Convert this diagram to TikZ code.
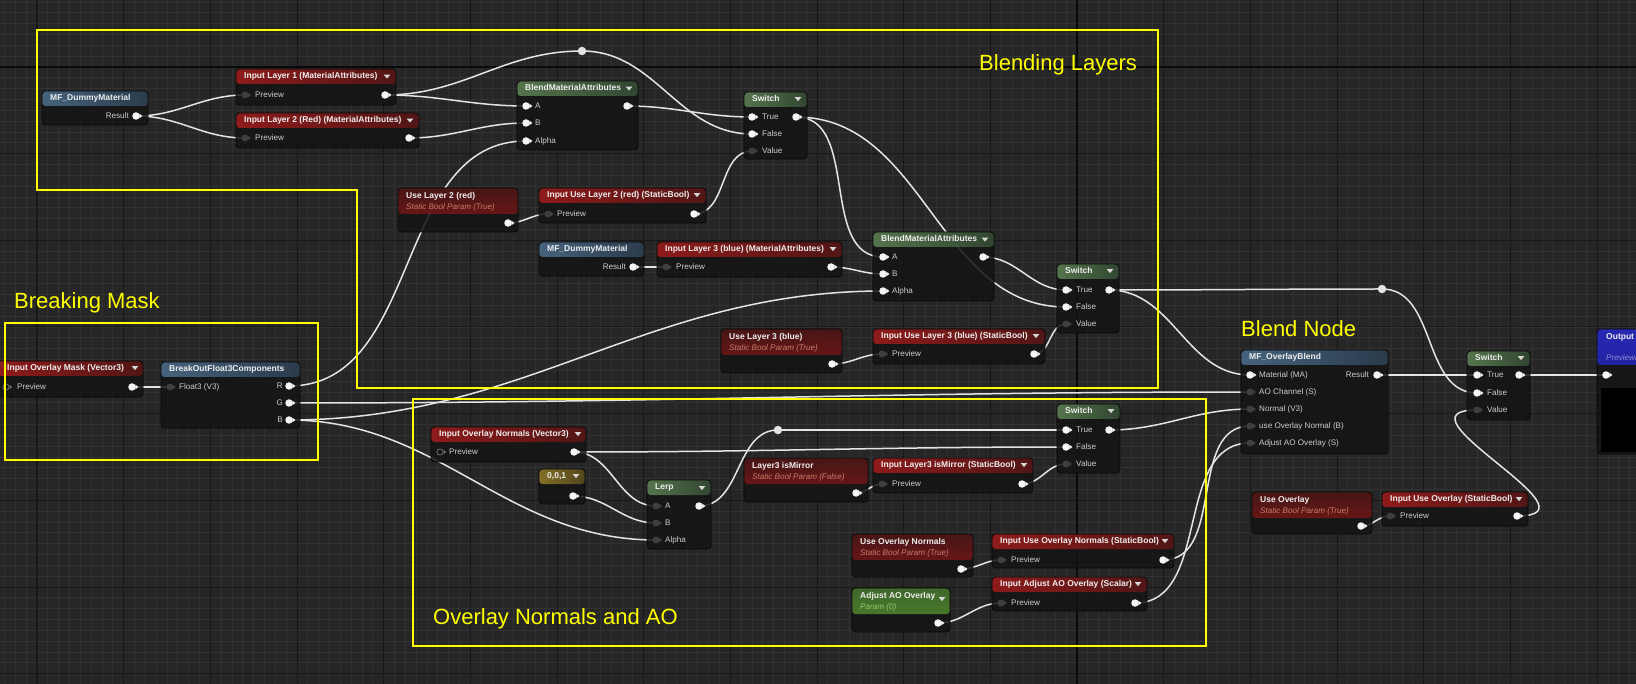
\documentclass[tikz,border=0pt]{standalone}
\usepackage{fontspec}
\setmainfont{Liberation Sans}
\usetikzlibrary{calc}
\definecolor{bg}{RGB}{38,38,38}
\definecolor{gmin}{RGB}{50,50,50}
\definecolor{gmaj}{RGB}{24,24,24}
\definecolor{gori}{RGB}{10,10,10}
\definecolor{nodebody}{RGB}{20,20,20}
\definecolor{nodeedge}{RGB}{8,8,8}
\definecolor{titlec}{RGB}{238,238,238}
\definecolor{labc}{RGB}{205,205,205}
\definecolor{wirec}{RGB}{228,228,228}
\definecolor{pinw}{RGB}{245,245,245}
\definecolor{pind}{RGB}{62,62,62}
\definecolor{pinh}{RGB}{110,110,110}
\definecolor{tric}{RGB}{215,215,215}
\definecolor{yel}{RGB}{255,255,0}
\definecolor{hr1}{RGB}{162,28,28}
\definecolor{hr2}{RGB}{92,22,22}
\definecolor{hb1}{RGB}{78,112,142}
\definecolor{hb2}{RGB}{46,66,86}
\definecolor{hg1}{RGB}{96,132,86}
\definecolor{hg2}{RGB}{54,78,54}
\definecolor{ho1}{RGB}{150,126,40}
\definecolor{ho2}{RGB}{92,78,30}
\definecolor{hp1}{RGB}{80,22,22}
\definecolor{hp2}{RGB}{140,24,24}
\definecolor{hq1}{RGB}{70,118,48}
\definecolor{hq2}{RGB}{86,150,44}
\definecolor{hu1}{RGB}{42,42,205}
\definecolor{hu2}{RGB}{28,28,140}
\definecolor{subred}{RGB}{200,125,105}
\definecolor{subgreen}{RGB}{150,200,120}
\definecolor{subblue}{RGB}{140,140,215}
\pgfdeclarelayer{grid}
\pgfdeclarelayer{wires}
\pgfsetlayers{grid,wires,main}
\tikzset{
  uebody/.style={draw=nodeedge, line width=0.8, rounded corners=3.5, fill=nodebody, fill opacity=0.86, inner sep=0, outer sep=0},
  ttl/.style={text=titlec, font=\fontsize{8.5}{9}\selectfont\bfseries, inner sep=0, text height=6.2pt, text depth=1.7pt},
  subt/.style={font=\fontsize{8.1}{9}\selectfont\itshape, inner sep=0, text height=6pt, text depth=1.6pt},
  plab/.style={text=labc, font=\fontsize{8.1}{9}\selectfont, inner sep=0, text height=6pt, text depth=1.6pt},
  pinn/.style={circle, inner sep=0, minimum size=7.5},
  knot/.style={circle, fill=wirec, inner sep=0, minimum size=8.5},
  wire/.style={draw=wirec, line width=1.5},
  ybox/.style={draw=yel, line width=1.1},
  bigl/.style={text=yel, font=\fontsize{22}{26}\selectfont, inner sep=0},
  gminor/.style={draw=gmin, line width=0.7},
  gmajor/.style={draw=gmaj, line width=1},
  gorigin/.style={draw=gori, line width=1.6},
  hred/.style={left color=hr1, right color=hr2},
  hblue/.style={left color=hb1, right color=hb2},
  hgreen/.style={left color=hg1, right color=hg2},
  holive/.style={left color=ho1, right color=ho2},
  hpred/.style={top color=hp1, bottom color=hp2},
  hpgreen/.style={top color=hq1, bottom color=hq2},
  hout/.style={top color=hu1, bottom color=hu2},
}
% standard node: name, x1, y1, x2, y2, header style, title
\newcommand{\uen}[7]{%
  \node[uebody, minimum width=#4-#2, minimum height=#5-#3, anchor=north west,
    path picture={\shade[#6] (path picture bounding box.north west) rectangle ([yshift=-15pt]path picture bounding box.north east);}] (#1) at (#2,-#3) {};
  \node[ttl, anchor=west] (#1-t) at (#2+8,-#3-7.5) {#7};}
% parameter node: name, x1, y1, x2, y2, header style, title, subtitle
\newcommand{\uep}[8]{%
  \node[uebody, minimum width=#4-#2, minimum height=#5-#3, anchor=north west,
    path picture={\shade[#6] (path picture bounding box.north west) rectangle ([yshift=-26pt]path picture bounding box.north east);}] (#1) at (#2,-#3) {};
  \node[ttl, anchor=west] (#1-t) at (#2+8,-#3-8) {#7};
  \node[subt, anchor=west] (#1-s) at (#2+8,-#3-19.5) {#8};}
\newcommand{\uetri}[2]{\fill[tric] (#1-3.3,-#2+1.9) -- (#1+3.3,-#2+1.9) -- (#1,-#2-2.1) -- cycle;}
\newcommand{\pinW}[3]{\node[pinn, fill=pinw] (#1) at (#2,-#3) {};
  \fill[pinw] (#2+3.4,-#3+2.3) -- (#2+6.4,-#3) -- (#2+3.4,-#3-2.3) -- cycle;}
\newcommand{\pinD}[3]{\node[pinn, fill=pind, minimum size=7] (#1) at (#2,-#3) {};
  \fill[pind] (#2+3.2,-#3+2.2) -- (#2+6.0,-#3) -- (#2+3.2,-#3-2.2) -- cycle;}
\newcommand{\pinH}[3]{\node[pinn, draw=pinh, line width=0.8, minimum size=6.2] (#1) at (#2,-#3) {};
  \fill[pinh] (#2+3.6,-#3+2.1) -- (#2+6.2,-#3) -- (#2+3.6,-#3-2.1) -- cycle;}
\newcommand{\labL}[4]{\node[plab, anchor=west] (#1) at (#2,-#3) {#4};}
\newcommand{\labR}[4]{\node[plab, anchor=east] (#1) at (#2,-#3) {#4};}

\begin{document}
\begin{tikzpicture}[x=1pt,y=1pt]
\useasboundingbox (0,0) rectangle (1636,-684);
\clip (0,0) rectangle (1636,-684);

\begin{pgfonlayer}{grid}
\fill[bg] (0,0) rectangle (1636,-684);
\foreach \k in {-100,...,52} \draw[gminor] ({1077+\k*10.8333},0) -- ({1077+\k*10.8333},-684);
\foreach \k in {-7,...,57} \draw[gminor] (0,{-67-\k*10.8333}) -- (1636,{-67-\k*10.8333});
\foreach \k in {-13,...,7} \draw[gmajor] ({1077+\k*86.6667},0) -- ({1077+\k*86.6667},-684);
\foreach \k in {-1,...,7} \draw[gmajor] (0,{-67-\k*86.6667}) -- (1636,{-67-\k*86.6667});
\draw[gorigin] (1077,0) -- (1077,-684);
\draw[gorigin] (0,-67) -- (1636,-67);
\end{pgfonlayer}

% ---------- Blending Layers ----------
\uen{dm1}{42}{91}{148}{125}{hblue}{MF\_DummyMaterial}
\labR{dm1-rl}{129}{116}{Result}
\pinW{dm1-r}{136}{116}

\uen{il1}{236}{69}{396}{105}{hred}{Input Layer 1 (MaterialAttributes)}
\uetri{387}{76.5}
\pinD{il1-i}{245}{95}
\labL{il1-il}{255}{95}{Preview}
\pinW{il1-o}{385}{95}

\uen{il2}{236}{113}{419}{148}{hred}{Input Layer 2 (Red) (MaterialAttributes)}
\uetri{410}{120.5}
\pinD{il2-i}{245}{138}
\labL{il2-il}{255}{138}{Preview}
\pinW{il2-o}{409}{138}

\uen{bma1}{517}{81}{638}{150}{hgreen}{BlendMaterialAttributes}
\uetri{629}{88.5}
\pinW{bma1-a}{526}{106} \labL{bma1-al}{535}{106}{A}
\pinW{bma1-b}{526}{123} \labL{bma1-bl}{535}{123}{B}
\pinW{bma1-c}{526}{141} \labL{bma1-cl}{535}{141}{Alpha}
\pinW{bma1-o}{627}{106}

\uen{sw1}{744}{92}{807}{159}{hgreen}{Switch}
\uetri{798}{99}
\pinW{sw1-t}{752}{117} \labL{sw1-tl}{762}{117}{True}
\pinW{sw1-f}{752}{134} \labL{sw1-fl}{762}{134}{False}
\pinD{sw1-v}{752}{151} \labL{sw1-vl}{762}{151}{Value}
\pinW{sw1-o}{796}{117}

\uep{ul2}{398}{188}{518}{232}{hpred}{Use Layer 2 (red)}{\color{subred}Static Bool Param (True)}
\pinW{ul2-o}{508}{223}

\uen{iul2}{539}{188}{706}{223}{hred}{Input Use Layer 2 (red) (StaticBool)}
\uetri{697}{195}
\pinD{iul2-i}{548}{214} \labL{iul2-il}{557}{214}{Preview}
\pinW{iul2-o}{694}{214}

\uen{dm2}{539}{242}{644}{276}{hblue}{MF\_DummyMaterial}
\labR{dm2-rl}{626}{267}{Result}
\pinW{dm2-r}{633}{267}

\uen{il3}{657}{242}{842}{277}{hred}{Input Layer 3 (blue) (MaterialAttributes)}
\uetri{833}{249}
\pinD{il3-i}{666}{267} \labL{il3-il}{676}{267}{Preview}
\pinW{il3-o}{831}{267}

\uen{bma2}{873}{232}{994}{301}{hgreen}{BlendMaterialAttributes}
\uetri{985}{239.5}
\pinW{bma2-a}{883}{257} \labL{bma2-al}{892}{257}{A}
\pinW{bma2-b}{883}{274} \labL{bma2-bl}{892}{274}{B}
\pinW{bma2-c}{883}{291} \labL{bma2-cl}{892}{291}{Alpha}
\pinW{bma2-o}{983}{257}

\uen{sw2}{1057}{264}{1119}{333}{hgreen}{Switch}
\uetri{1110}{271}
\pinW{sw2-t}{1066}{290} \labL{sw2-tl}{1076}{290}{True}
\pinW{sw2-f}{1066}{307} \labL{sw2-fl}{1076}{307}{False}
\pinD{sw2-v}{1066}{324} \labL{sw2-vl}{1076}{324}{Value}
\pinW{sw2-o}{1109}{290}

\uep{ul3}{721}{329}{842}{373}{hpred}{Use Layer 3 (blue)}{\color{subred}Static Bool Param (True)}
\pinW{ul3-o}{832}{364}

\uen{iul3}{873}{329}{1045}{364}{hred}{Input Use Layer 3 (blue) (StaticBool)}
\uetri{1036}{336}
\pinD{iul3-i}{882}{354} \labL{iul3-il}{892}{354}{Preview}
\pinW{iul3-o}{1034}{354}

% ---------- Breaking Mask ----------
\node[uebody, minimum width=147, minimum height=36, anchor=north west,
  path picture={\shade[hred] (path picture bounding box.north west) rectangle ([yshift=-15pt]path picture bounding box.north east);}] (iom) at (-4,-361) {};
\node[ttl, anchor=west] (iom-t) at (7,-368.5) {Input Overlay Mask (Vector3)};
\uetri{135}{368}
\pinH{iom-i}{6}{387} \labL{iom-il}{17}{387}{Preview}
\pinW{iom-o}{132}{387}

\uen{bo}{161}{362}{300}{428}{hblue}{BreakOutFloat3Components}
\pinD{bo-i}{170}{387} \labL{bo-il}{179}{387}{Float3 (V3)}
\labR{bo-rl}{283}{386}{R} \pinW{bo-r}{289}{386}
\labR{bo-gl}{283}{403}{G} \pinW{bo-g}{289}{403}
\labR{bo-bl}{283}{420}{B} \pinW{bo-b}{289}{420}

% ---------- Overlay Normals and AO ----------
\uen{ion}{431}{427}{586}{462}{hred}{Input Overlay Normals (Vector3)}
\uetri{578}{434}
\pinH{ion-i}{440}{452} \labL{ion-il}{449}{452}{Preview}
\pinW{ion-o}{574}{452}

\uen{c001}{539}{469}{585}{504}{holive}{0,0,1}
\uetri{576}{476}
\pinW{c001-o}{573}{496}

\uen{lerp}{647}{480}{711}{549}{hgreen}{Lerp}
\uetri{702}{488}
\pinD{lerp-a}{656}{506} \labL{lerp-al}{665}{506}{A}
\pinD{lerp-b}{656}{523} \labL{lerp-bl}{665}{523}{B}
\pinD{lerp-c}{656}{540} \labL{lerp-cl}{665}{540}{Alpha}
\pinW{lerp-o}{699}{506}

\uep{l3m}{744}{458}{868}{502}{hpred}{Layer3 isMirror}{\color{subred}Static Bool Param (False)}
\pinW{l3m-o}{856}{493}

\uen{il3m}{873}{458}{1033}{493}{hred}{Input Layer3 isMirror (StaticBool)}
\uetri{1024}{465}
\pinD{il3m-i}{882}{484} \labL{il3m-il}{892}{484}{Preview}
\pinW{il3m-o}{1022}{484}

\uen{sw4}{1057}{404}{1120}{473}{hgreen}{Switch}
\uetri{1111}{411}
\pinW{sw4-t}{1066}{430} \labL{sw4-tl}{1076}{430}{True}
\pinW{sw4-f}{1066}{447} \labL{sw4-fl}{1076}{447}{False}
\pinD{sw4-v}{1066}{464} \labL{sw4-vl}{1076}{464}{Value}
\pinW{sw4-o}{1109}{430}

\uep{uon}{852}{534}{973}{577}{hpred}{Use Overlay Normals}{\color{subred}Static Bool Param (True)}
\pinW{uon-o}{961}{569}

\uen{iuon}{992}{534}{1174}{568}{hred}{Input Use Overlay Normals (StaticBool)}
\uetri{1165}{541}
\pinD{iuon-i}{1001}{560} \labL{iuon-il}{1011}{560}{Preview}
\pinW{iuon-o}{1163}{560}

\uep{aao}{852}{588}{950}{632}{hpgreen}{Adjust AO Overlay}{\color{subgreen}Param (0)}
\uetri{942}{599}
\pinW{aao-o}{938}{623}

\uen{iaao}{992}{577}{1147}{611}{hred}{Input Adjust AO Overlay (Scalar)}
\uetri{1138}{584}
\pinD{iaao-i}{1001}{603} \labL{iaao-il}{1011}{603}{Preview}
\pinW{iaao-o}{1135}{603}

% ---------- Blend Node ----------
\uen{mob}{1241}{350}{1388}{454}{hblue}{MF\_OverlayBlend}
\pinW{mob-a}{1250}{375} \labL{mob-al}{1259}{375}{Material (MA)}
\pinD{mob-b}{1250}{392} \labL{mob-bl}{1259}{392}{AO Channel (S)}
\pinD{mob-c}{1250}{409} \labL{mob-cl}{1259}{409}{Normal (V3)}
\pinD{mob-d}{1250}{426} \labL{mob-dl}{1259}{426}{use Overlay Normal (B)}
\pinD{mob-e}{1250}{443} \labL{mob-el}{1259}{443}{Adjust AO Overlay (S)}
\labR{mob-ol}{1369}{375}{Result}
\pinW{mob-o}{1377}{375}

\uen{sw3}{1467}{351}{1530}{420}{hgreen}{Switch}
\uetri{1521}{358}
\pinW{sw3-t}{1477}{375} \labL{sw3-tl}{1487}{375}{True}
\pinW{sw3-f}{1477}{393} \labL{sw3-fl}{1487}{393}{False}
\pinD{sw3-v}{1477}{410} \labL{sw3-vl}{1487}{410}{Value}
\pinW{sw3-o}{1519}{375}

\uep{uo}{1252}{492}{1372}{534}{hpred}{Use Overlay}{\color{subred}Static Bool Param (True)}
\pinW{uo-o}{1361}{526}

\uen{iuo}{1382}{492}{1528}{526}{hred}{Input Use Overlay (StaticBool)}
\uetri{1519}{499}
\pinD{iuo-i}{1390}{516} \labL{iuo-il}{1400}{516}{Preview}
\pinW{iuo-o}{1517}{516}

% output node (cut by the right edge, as in the reference)
\node[uebody, minimum width=60, minimum height=125, anchor=north west,
  path picture={\shade[hout] (path picture bounding box.north west) rectangle ([yshift=-36pt]path picture bounding box.north east);}] (outn) at (1597,-329) {};
\node[ttl, anchor=west] (outn-t) at (1606,-337) {Output Result};
\node[subt, anchor=west] (outn-s) at (1606,-358) {\color{subblue}Previewing};
\node[fill=black, inner sep=0, minimum width=45, minimum height=64, anchor=north west] (outn-pv) at (1601,-388) {};
\pinW{outn-p}{1606}{375}

% reroute knots
\node[knot] (k1) at (582,-51) {};
\node[knot] (k2) at (1382,-289) {};
\node[knot] (k3) at (778,-430) {};

% ---------- wires ----------
\begin{pgfonlayer}{wires}
\draw[wire] (dm1-r.center) to[out=0,in=180] (il1-i.center);
\draw[wire] (dm1-r.center) to[out=0,in=180] (il2-i.center);
\draw[wire] (il1-o.center) to[out=0,in=180] (bma1-a.center);
\draw[wire] (il1-o.center) to[out=0,in=180] (k1.center);
\draw[wire] (k1.center) to[out=0,in=180] (sw1-f.center);
\draw[wire] (il2-o.center) to[out=0,in=180] (bma1-b.center);
\draw[wire] (bma1-o.center) to[out=0,in=180] (sw1-t.center);
\draw[wire] (iul2-o.center) to[out=0,in=180] (sw1-v.center);
\draw[wire] (ul2-o.center) to[out=0,in=180] (iul2-i.center);
\draw[wire] (bo-r.center) to[out=0,in=180] (bma1-c.center);
\draw[wire] (sw1-o.center) to[out=0,in=180] (bma2-a.center);
\draw[wire] (sw1-o.center) to[out=0,in=180] (sw2-f.center);
\draw[wire] (dm2-r.center) to[out=0,in=180] (il3-i.center);
\draw[wire] (il3-o.center) to[out=0,in=180] (bma2-b.center);
\draw[wire] (bo-b.center) to[out=0,in=180] (bma2-c.center);
\draw[wire] (bma2-o.center) to[out=0,in=180] (sw2-t.center);
\draw[wire] (iul3-o.center) to[out=0,in=180] (sw2-v.center);
\draw[wire] (ul3-o.center) to[out=0,in=180] (iul3-i.center);
\draw[wire] (sw2-o.center) to[out=0,in=180] (k2.center);
\draw[wire] (k2.center) to[out=0,in=180] (sw3-f.center);
\draw[wire] (sw2-o.center) to[out=0,in=180] (mob-a.center);
\draw[wire] (bo-g.center) to[out=0,in=180] (mob-b.center);
\draw[wire] (iom-o.center) to[out=0,in=180] (bo-i.center);
\draw[wire] (bo-b.center) to[out=0,in=180] (lerp-c.center);
\draw[wire] (ion-o.center) to[out=0,in=180] (lerp-a.center);
\draw[wire] (ion-o.center) to[out=0,in=180] (sw4-f.center);
\draw[wire] (c001-o.center) to[out=0,in=180] (lerp-b.center);
\draw[wire] (lerp-o.center) to[out=0,in=180] (k3.center);
\draw[wire] (k3.center) to[out=0,in=180] (sw4-t.center);
\draw[wire] (il3m-o.center) to[out=0,in=180] (sw4-v.center);
\draw[wire] (l3m-o.center) to[out=0,in=180] (il3m-i.center);
\draw[wire] (sw4-o.center) to[out=0,in=180] (mob-c.center);
\draw[wire] (iuon-o.center) to[out=0,in=180] (mob-d.center);
\draw[wire] (iaao-o.center) to[out=0,in=180] (mob-e.center);
\draw[wire] (uon-o.center) to[out=0,in=180] (iuon-i.center);
\draw[wire] (aao-o.center) to[out=0,in=180] (iaao-i.center);
\draw[wire] (mob-o.center) to[out=0,in=180] (sw3-t.center);
\draw[wire] (sw3-o.center) to[out=0,in=180] (outn-p.center);
\draw[wire] (iuo-o.center) .. controls +(90,0) and +(-90,0) .. (sw3-v.center);
\draw[wire] (uo-o.center) to[out=0,in=180] (iuo-i.center);
\end{pgfonlayer}

% ---------- yellow annotation boxes and labels ----------
\draw[ybox] (37,-30) -- (1158,-30) -- (1158,-388) -- (357,-388) -- (357,-190) -- (37,-190) -- cycle;
\draw[ybox] (5,-323) rectangle (318,-460);
\draw[ybox] (413,-399) rectangle (1206,-646);
\node[bigl, anchor=base west] (lblA) at (979,-71) {Blending Layers};
\node[bigl, anchor=base west] (lblB) at (14,-309) {Breaking Mask};
\node[bigl, anchor=base west] (lblC) at (433,-624) {Overlay Normals and AO};
\node[bigl, anchor=base west] (lblD) at (1241,-337) {Blend Node};
\end{tikzpicture}
\end{document}
